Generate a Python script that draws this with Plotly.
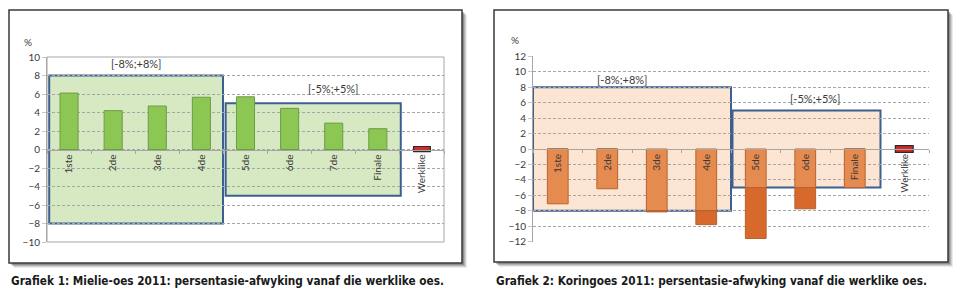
import plotly.graph_objects as go

# ---------------- data ----------------
cats1 = ["1ste", "2de", "3de", "4de", "5de", "6de", "7de", "Finale", "Werklike"]
vals1 = [6.1, 4.2, 4.7, 5.65, 5.7, 4.45, 2.85, 2.25]
werklike1 = 0.0

cats2 = ["1ste", "2de", "3de", "4de", "5de", "6de", "Finale", "Werklike"]
vals2 = [-7.1, -5.15, -8.15, -9.8, -11.6, -7.75, -5.0]
werklike2 = 0.0

band_labels = ["[-8%;+8%]", "[-5%;+5%]"]
band_limits = [8, 5]
bands1 = [("1ste", "4de"), ("5de", "Finale")]
bands2 = [("1ste", "4de"), ("5de", "Finale")]

captions = [
    "Grafiek 1: Mielie-oes 2011: persentasie-afwyking vanaf die werklike oes.",
    "Grafiek 2: Koringoes 2011: persentasie-afwyking vanaf die werklike oes.",
]

# ---------------- geometry helpers ----------------
W, H = 960, 294
def px(x):
    return x / W
def py(y):
    return 1 - y / H

GREEN = "#8CC653"
GREEN_LINE = "#6F9B48"
GREEN_FILL = "#D7E9C3"
OR_IN = "#E58B50"
OR_OUT = "#D6692B"
OR_LINE = "#B8622E"
OR_FILL = "#FCE5D2"
BLUE = "#3C5F92"
RED = "#D42A2A"
GRID = "#A6A6A6"
TXT = "#3A3A3A"
TICKFONT = dict(family="Lato, Liberation Sans, sans-serif", size=10, color=TXT)

fig = go.Figure()

# ----- chart 1 bars -----
n1 = len(vals1)
fig.add_trace(go.Bar(x=cats1[:n1], y=vals1, width=0.41, marker=dict(color=GREEN, line=dict(color=GREEN_LINE, width=1)),
                     xaxis="x", yaxis="y", showlegend=False))
h1 = 0.55
fig.add_trace(go.Bar(x=[cats1[-1]], y=[h1], base=[werklike1 - h1 / 2 + 0.05], width=0.38,
                     marker=dict(color=RED, line=dict(color="#2A2A2A", width=1.2)),
                     xaxis="x", yaxis="y", showlegend=False))

# ----- chart 2 bars: split into inside / outside the band -----
def band_low(cat, cats, bands):
    i = cats.index(cat)
    for (a, b), lim in zip(bands, band_limits):
        if cats.index(a) <= i <= cats.index(b):
            return -lim
    return None

inner, outer_y, outer_base = [], [], []
for c, v in zip(cats2, vals2):
    lo = band_low(c, cats2, bands2)
    if v < lo:
        inner.append(lo)
        outer_base.append(lo)
        outer_y.append(v - lo)
    else:
        inner.append(v)
        outer_base.append(0)
        outer_y.append(0)
n2 = len(vals2)
fig.add_trace(go.Bar(x=cats2[:n2], y=inner, width=0.42, marker=dict(color=OR_IN, line=dict(color=OR_LINE, width=1)),
                     xaxis="x2", yaxis="y2", showlegend=False))
fig.add_trace(go.Bar(x=cats2[:n2], y=outer_y, base=outer_base, width=0.42,
                     marker=dict(color=OR_OUT, line=dict(color=OR_LINE, width=1)),
                     xaxis="x2", yaxis="y2", showlegend=False))
h2 = 0.9
fig.add_trace(go.Bar(x=[cats2[-1]], y=[h2], base=[werklike2 - h2 / 2], width=0.36,
                     marker=dict(color=RED, line=dict(color="#2A2A2A", width=1.2)),
                     xaxis="x2", yaxis="y2", showlegend=False))

# ----- axes -----
L1 = dict(x0=47, x1=444, y0=57, y1=242)
L2 = dict(x0=533, x1=929, y0=56, y1=242)

def ydom(L):
    return [py(L["y1"]), py(L["y0"])]

def xdom(L):
    return [px(L["x0"]), px(L["x1"])]

common_x = dict(type="category", tickson="boundaries", ticks="outside", ticklen=3, tickcolor=GRID,
                showline=True, linecolor=GRID, linewidth=1, tickangle=-90, tickfont=TICKFONT,
                showgrid=False, anchor="free", fixedrange=True, automargin=False)
common_y = dict(dtick=2, showgrid=True, gridcolor=GRID, griddash="3px,2px",
                zeroline=False, showline=True, linecolor=GRID, ticks="outside", ticklen=4, tickcolor="#C8C8C8",
                tickfont=TICKFONT, automargin=False, fixedrange=True)
fig.update_layout(
    xaxis=dict(**common_x, domain=xdom(L1), categoryorder="array", categoryarray=cats1,
               range=[-0.5, len(cats1) - 0.5], position=sum(ydom(L1)) / 2),
    yaxis=dict(**common_y, domain=ydom(L1), range=[-10, 10], anchor="x"),
    xaxis2=dict(**common_x, domain=xdom(L2), categoryorder="array", categoryarray=cats2,
                range=[-0.5, len(cats2) - 0.5], position=sum(ydom(L2)) / 2),
    yaxis2=dict(**common_y, domain=ydom(L2), range=[-12.05, 12.05], anchor="x2",
                tickvals=list(range(-12, 13, 2))),
)

shapes = []
# outer frames with shadow
for (x0, y0, x1, y1) in [(9, 10, 462, 263), (494, 10, 948, 262)]:
    for off, op in [(5, 0.10), (4, 0.15), (3, 0.22), (2, 0.3)]:
        shapes.append(dict(type="rect", xref="paper", yref="paper", layer="below",
                           x0=px(x0 + off), x1=px(x1 + off), y0=py(y0 + off), y1=py(y1 + off),
                           fillcolor=f"rgba(60,60,60,{op})", line=dict(width=0)))
    shapes.append(dict(type="rect", xref="paper", yref="paper", layer="below",
                       x0=px(x0), x1=px(x1), y0=py(y0), y1=py(y1),
                       fillcolor="white", line=dict(color="#3A3A3A", width=1.5)))
# plot border chart 1
shapes.append(dict(type="rect", xref="x domain", yref="y domain", x0=0, x1=1, y0=0, y1=1,
                   line=dict(color=GRID, width=1), layer="below"))

# band boxes
pads1 = [(-0.45, 0.49), (-0.45, 0.52)]
pads2 = [(-0.5, 0.5), (-0.47, 0.52)]
for cats, bands, xr, yr, fill, pads in [(cats1, bands1, "x", "y", GREEN_FILL, pads1),
                                        (cats2, bands2, "x2", "y2", OR_FILL, pads2)]:
    for (a, b), lim, (pa, pb) in zip(bands, band_limits, pads):
        ia, ib = cats.index(a), cats.index(b)
        shapes.append(dict(type="rect", xref=xr, yref=yr, layer="below",
                           x0=ia + pa, x1=ib + pb, y0=-lim, y1=lim,
                           fillcolor=fill, line=dict(color=BLUE, width=2)))
fig.update_layout(shapes=shapes)

ann = []
# band labels
lab_pos1 = [(1.52, 9.25), (5.99, 6.6)]
lab_pos2 = [(1.3, 9.0), (5.2, 6.6)]
for xr, yr, pos in [("x", "y", lab_pos1), ("x2", "y2", lab_pos2)]:
    for t, (xx, yy) in zip(band_labels, pos):
        ann.append(dict(text=t, x=xx, y=yy, xref=xr, yref=yr, showarrow=False,
                        xanchor="center", yanchor="middle",
                        font=dict(family="Lato, Liberation Sans, sans-serif", size=11, color=TXT)))
# % labels
for xx, yy in [(28, 42), (515, 40)]:
    ann.append(dict(text="%", x=px(xx), y=py(yy), xref="paper", yref="paper", showarrow=False,
                    xanchor="center", yanchor="middle",
                    font=dict(family="Lato, Liberation Sans, sans-serif", size=10, color=TXT)))
# captions
for t, xx in zip(captions, [9, 494]):
    ann.append(dict(text="<b>" + t + "</b>", x=px(xx), y=py(280), xref="paper", yref="paper",
                    xanchor="left", yanchor="middle", showarrow=False,
                    font=dict(family="DejaVu Sans Condensed, DejaVu Sans, sans-serif",
                              size=12.4, color="#1A1A1A")))
fig.update_layout(annotations=ann)

fig.update_layout(width=W, height=H, margin=dict(l=0, r=0, t=0, b=0, autoexpand=False),
                  paper_bgcolor="white", plot_bgcolor="rgba(0,0,0,0)",
                  barmode="overlay", showlegend=False)

# squeeze the caption glyphs horizontally to the condensed width of the reference
post_js = """
var gd = document.getElementById('{plot_id}');
function fitCaptions(){
  var texts = gd.querySelectorAll('text.annotation-text');
  texts.forEach(function(el){
    var t = el.textContent || '';
    var target = null;
    if (t.indexOf('Grafiek 1') === 0) target = 433;
    if (t.indexOf('Grafiek 2') === 0) target = 431;
    if (target === null) return;
    var bb = el.getBBox();
    if (bb.width <= target) return;
    el.setAttribute('text-anchor', 'start');
    el.setAttribute('x', bb.x);
    el.setAttribute('textLength', target);
    el.setAttribute('lengthAdjust', 'spacingAndGlyphs');
  });
}
fitCaptions();
"""

fig.write_html("out.html", config={"displayModeBar": False}, post_script=post_js)
